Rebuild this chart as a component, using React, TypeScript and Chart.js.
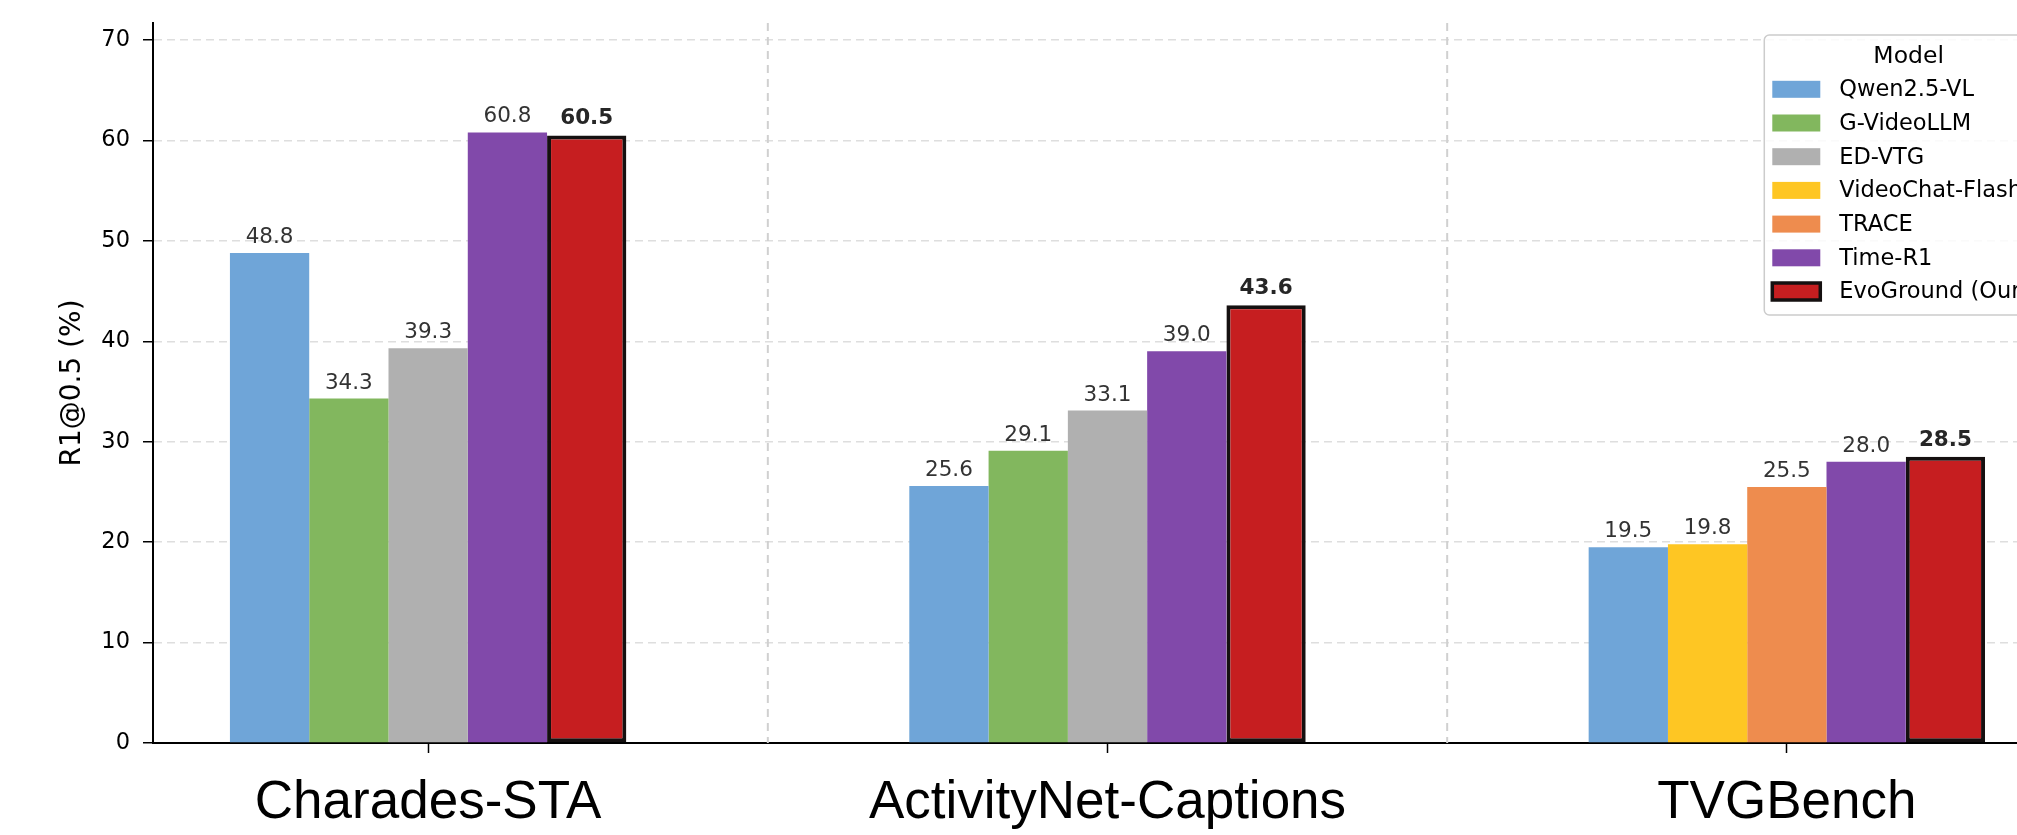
import React, { useEffect, useRef } from 'react';
import { Chart, registerables } from 'chart.js';

Chart.register(...registerables);

// ---------------- data ----------------
const categories = ['Charades-STA', 'ActivityNet-Captions', 'TVGBench'];
const modelNames = ['Qwen2.5-VL', 'G-VideoLLM', 'ED-VTG', 'VideoChat-Flash', 'TRACE', 'Time-R1', 'EvoGround (Ours)'];
const qwenValues = [48.8, 25.6, 19.5];
const gVideoLLMValues = [34.3, 29.1, null];
const edVtgValues = [39.3, 33.1, null];
const videoChatFlashValues = [null, null, 19.8];
const traceValues = [null, null, 25.5];
const timeR1Values = [60.8, 39.0, 28.0];
const evoGroundValues = [60.5, 43.6, 28.5];
const yTicks = [0, 10, 20, 30, 40, 50, 60, 70];
const yMax = 71.7;
const yTitle = 'R1@0.5 (%)';
const legendTitle = 'Model';

// ---------------- styles ----------------
const modelColors = ['#6FA5D8', '#82B75E', '#B0B0B0', '#FEC623', '#EE8C4E', '#8149AA', '#C61E20'];
const highlightModel = 6;
const highlightEdge = '#151010';

const modelSeries: (number | null)[][] = [
  qwenValues,
  gVideoLLMValues,
  edVtgValues,
  videoChatFlashValues,
  traceValues,
  timeR1Values,
  evoGroundValues,
];

// models present in each category, in legend order -> slot positions
const present: number[][] = categories.map((_, ci) =>
  modelSeries.map((s, mi) => (s[ci] != null ? mi : -1)).filter((mi) => mi >= 0)
);
const slotCount = Math.max(...present.map((p) => p.length));

const datasets = Array.from({ length: slotCount }, (_, si) => ({
  label: 'slot' + si,
  data: categories.map((_, ci) => {
    const mi = present[ci][si];
    return { x: ci, y: mi === undefined ? null : modelSeries[mi][ci] };
  }),
  backgroundColor: categories.map((_, ci) => {
    const mi = present[ci][si];
    return mi === undefined ? 'transparent' : modelColors[mi];
  }),
  borderColor: categories.map((_, ci) => {
    const mi = present[ci][si];
    return mi === highlightModel ? highlightEdge : mi === undefined ? 'transparent' : modelColors[mi];
  }),
  borderWidth: categories.map((_, ci) => (present[ci][si] === highlightModel ? 4 : 0)),
  borderSkipped: false,
}));

const separatorPlugin = {
  id: 'separators',
  beforeDatasetsDraw(chart: any) {
    const { ctx, chartArea } = chart;
    const xs = chart.scales.x;
    ctx.save();
    ctx.strokeStyle = '#d0d0d0';
    ctx.lineWidth = 2;
    ctx.setLineDash([8, 6]);
    for (let i = 0; i < categories.length - 1; i++) {
      const px = xs.getPixelForValue(i + 0.5);
      ctx.beginPath();
      ctx.moveTo(px, chartArea.top);
      ctx.lineTo(px, chartArea.bottom);
      ctx.stroke();
    }
    ctx.restore();
  },
};

const valueLabelPlugin = {
  id: 'valueLabels',
  afterDatasetsDraw(chart: any) {
    const ctx = chart.ctx;
    ctx.save();
    ctx.textAlign = 'center';
    ctx.textBaseline = 'alphabetic';
    chart.data.datasets.forEach((_: any, di: number) => {
      const meta = chart.getDatasetMeta(di);
      meta.data.forEach((el: any, ci: number) => {
        const mi = present[ci][di];
        if (mi === undefined) return;
        const v = modelSeries[mi][ci];
        if (v == null) return;
        const bold = mi === highlightModel;
        ctx.font = `${bold ? 'bold ' : ''}21.5px "DejaVu Sans"`;
        ctx.fillStyle = bold ? '#262626' : '#333333';
        ctx.fillText(v.toFixed(1), el.x, el.y - (bold ? 11 : 10));
      });
    });
    ctx.restore();
  },
};

const legendPlugin = {
  id: 'modelLegend',
  afterDraw(chart: any) {
    const { ctx, chartArea } = chart;
    const fontSize = 22.5;
    ctx.save();
    ctx.font = `${fontSize}px "DejaVu Sans"`;
    const maxW = Math.max(...modelNames.map((n) => ctx.measureText(n).width));
    const boxW = 48;
    const boxH = 17;
    const padL = 8;
    const gapText = 19;
    const padR = 12;
    const width = padL + boxW + gapText + maxW + padR;
    const right = chartArea.right - 9;
    const left = right - width;
    const top = chartArea.top + 12;
    const rowH = 33.7;
    const firstRow = top + 54.3;
    const height = 280;

    ctx.beginPath();
    ctx.roundRect(left, top, width, height, 5);
    ctx.fillStyle = 'rgba(255,255,255,0.85)';
    ctx.fill();
    ctx.strokeStyle = '#cccccc';
    ctx.lineWidth = 1.5;
    ctx.stroke();

    ctx.fillStyle = '#000';
    ctx.font = `23.5px "DejaVu Sans"`;
    ctx.textAlign = 'center';
    ctx.textBaseline = 'alphabetic';
    ctx.fillText(legendTitle, left + width / 2, top + 28.3);

    ctx.font = `${fontSize}px "DejaVu Sans"`;
    ctx.textAlign = 'left';
    ctx.textBaseline = 'middle';
    modelNames.forEach((name, mi) => {
      const cy = firstRow + rowH * mi;
      const bx = left + padL;
      const by = cy - boxH / 2;
      ctx.fillStyle = modelColors[mi];
      ctx.fillRect(bx, by, boxW, boxH);
      if (mi === highlightModel) {
        ctx.strokeStyle = highlightEdge;
        ctx.lineWidth = 3.5;
        ctx.strokeRect(bx, by, boxW, boxH);
      }
      ctx.fillStyle = '#000';
      ctx.fillText(name, bx + boxW + gapText, cy + 1);
    });
    ctx.restore();
  },
};

export default function App() {
  const ref = useRef<HTMLCanvasElement | null>(null);

  useEffect(() => {
    if (!ref.current) return;
    const chart = new Chart(ref.current, {
      type: 'bar',
      data: { datasets: datasets as any },
      plugins: [separatorPlugin, valueLabelPlugin, legendPlugin],
      options: {
        responsive: false,
        animation: false,
        devicePixelRatio: 1,
        layout: { padding: { left: 0, right: 18, top: 23, bottom: 0 } },
        plugins: { legend: { display: false }, tooltip: { enabled: false } },
        datasets: { bar: { categoryPercentage: 0.5835, barPercentage: 1, grouped: true } },
        scales: {
          x: {
            type: 'linear',
            offset: false,
            min: -0.405,
            max: 2.405,
            afterBuildTicks: (s: any) => {
              s.ticks = categories.map((_, i) => ({ value: i }));
            },
            afterFit: (s: any) => {
              s.height = 92;
              s.paddingLeft = 0;
              s.paddingRight = 0;
            },
            ticks: {
              callback: (v: any) => categories[v] ?? '',
              font: { family: 'Liberation Sans', size: 53 },
              color: '#000',
              padding: 19,
              maxRotation: 0,
              autoSkip: false,
            },
            grid: {
              offset: false,
              drawOnChartArea: false,
              drawTicks: true,
              tickLength: 10,
              tickColor: '#000',
              tickWidth: 1.5,
            },
            border: { display: true, color: '#000', width: 2 },
          },
          y: {
            min: 0,
            max: yMax,
            afterBuildTicks: (s: any) => {
              s.ticks = yTicks.map((v) => ({ value: v }));
            },
            afterFit: (s: any) => {
              s.width = 153;
              s.paddingTop = 5;
              s.paddingBottom = 5;
            },
            ticks: { font: { family: 'DejaVu Sans', size: 22.5 }, color: '#000', padding: 13 },
            grid: {
              color: '#dedede',
              lineWidth: 1.5,
              drawTicks: true,
              tickLength: 10,
              tickColor: '#000',
              tickWidth: 1.5,
              tickBorderDash: [],
            },
            border: { display: true, color: '#000', width: 2, dash: [8, 5] },
            title: {
              display: true,
              text: yTitle,
              font: { family: 'DejaVu Sans', size: 28 },
              color: '#000',
              padding: { top: 56, bottom: 0 },
            },
          },
        },
      } as any,
    });
    return () => chart.destroy();
  }, []);

  return (
    <div
      style={{
        position: 'fixed',
        left: 0,
        top: 0,
        width: '2017px',
        height: '835px',
        overflow: 'hidden',
        background: '#fff',
      }}
    >
      <canvas ref={ref} width={2080} height={835} style={{ display: 'block', width: '2080px', height: '835px' }} />
    </div>
  );
}
